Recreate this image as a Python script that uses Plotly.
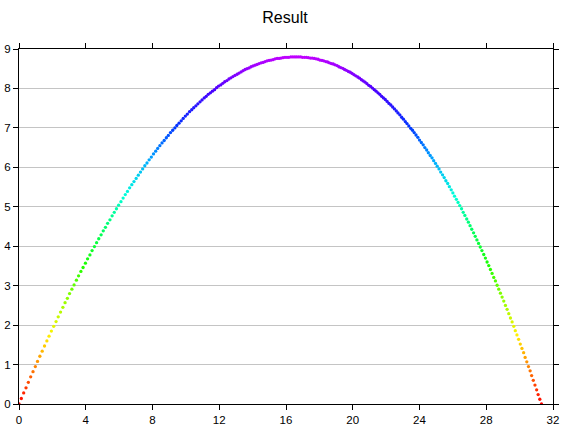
import plotly.graph_objects as go

title_text = "Result"

x_vals = [
    0.00,
    0.14, 0.28, 0.42, 0.56, 0.70, 0.84, 0.98, 1.11, 1.25, 1.39,
    1.53, 1.67, 1.80, 1.94, 2.08, 2.22, 2.35, 2.49, 2.63, 2.76,
    2.90, 3.03, 3.17, 3.30, 3.44, 3.57, 3.71, 3.84, 3.98, 4.11,
    4.25, 4.38, 4.52, 4.65, 4.78, 4.92, 5.05, 5.18, 5.31, 5.45,
    5.58, 5.71, 5.84, 5.97, 6.11, 6.24, 6.37, 6.50, 6.63, 6.76,
    6.89, 7.02, 7.15, 7.28, 7.41, 7.54, 7.67, 7.80, 7.93, 8.06,
    8.19, 8.31, 8.44, 8.57, 8.70, 8.83, 8.95, 9.08, 9.21, 9.34,
    9.46, 9.59, 9.72, 9.84, 9.97, 10.09, 10.22, 10.35, 10.47, 10.60,
    10.72, 10.85, 10.97, 11.10, 11.22, 11.34, 11.47, 11.59, 11.72, 11.84,
    11.96, 12.09, 12.21, 12.33, 12.46, 12.58, 12.70, 12.82, 12.94, 13.07,
    13.19, 13.31, 13.43, 13.55, 13.67, 13.79, 13.91, 14.03, 14.15, 14.27,
    14.39, 14.51, 14.63, 14.75, 14.87, 14.99, 15.11, 15.23, 15.35, 15.47,
    15.59, 15.70, 15.82, 15.94, 16.06, 16.17, 16.29, 16.41, 16.53, 16.64,
    16.76, 16.88, 16.99, 17.11, 17.22, 17.34, 17.46, 17.57, 17.69, 17.80,
    17.92, 18.03, 18.15, 18.26, 18.38, 18.49, 18.60, 18.72, 18.83, 18.94,
    19.06, 19.17, 19.28, 19.40, 19.51, 19.62, 19.74, 19.85, 19.96, 20.07,
    20.18, 20.30, 20.41, 20.52, 20.63, 20.74, 20.85, 20.96, 21.07, 21.18,
    21.29, 21.40, 21.51, 21.62, 21.73, 21.84, 21.95, 22.06, 22.17, 22.28,
    22.39, 22.50, 22.61, 22.71, 22.82, 22.93, 23.04, 23.15, 23.25, 23.36,
    23.47, 23.58, 23.68, 23.79, 23.90, 24.00, 24.11, 24.22, 24.32, 24.43,
    24.53, 24.64, 24.75, 24.85, 24.96, 25.06, 25.17, 25.27, 25.38, 25.48,
    25.58, 25.69, 25.79, 25.90, 26.00, 26.10, 26.21, 26.31, 26.41, 26.52,
    26.62, 26.72, 26.83, 26.93, 27.03, 27.13, 27.24, 27.34, 27.44, 27.54,
    27.64, 27.74, 27.85, 27.95, 28.05, 28.15, 28.25, 28.35, 28.45, 28.55,
    28.65, 28.75, 28.85, 28.95, 29.05, 29.15, 29.25, 29.35, 29.45, 29.55,
    29.65, 29.74, 29.84, 29.94, 30.04, 30.14, 30.24, 30.33, 30.43, 30.53,
    30.63, 30.72, 30.82, 30.92, 31.02, 31.11, 31.21, 31.31,
]

y_vals = [
    0.00,
    0.14, 0.28, 0.41, 0.55, 0.69, 0.82, 0.95, 1.08, 1.21, 1.34,
    1.47, 1.60, 1.72, 1.85, 1.97, 2.09, 2.21, 2.33, 2.45, 2.57,
    2.68, 2.80, 2.91, 3.02, 3.14, 3.25, 3.36, 3.46, 3.57, 3.68,
    3.78, 3.89, 3.99, 4.09, 4.19, 4.29, 4.39, 4.48, 4.58, 4.67,
    4.77, 4.86, 4.95, 5.04, 5.13, 5.22, 5.31, 5.39, 5.48, 5.56,
    5.64, 5.72, 5.80, 5.88, 5.96, 6.04, 6.11, 6.19, 6.26, 6.34,
    6.41, 6.48, 6.55, 6.62, 6.68, 6.75, 6.81, 6.88, 6.94, 7.00,
    7.06, 7.12, 7.18, 7.24, 7.30, 7.35, 7.41, 7.46, 7.51, 7.56,
    7.61, 7.66, 7.71, 7.76, 7.80, 7.85, 7.89, 7.93, 7.97, 8.02,
    8.06, 8.09, 8.13, 8.17, 8.20, 8.24, 8.27, 8.30, 8.33, 8.36,
    8.39, 8.42, 8.45, 8.48, 8.50, 8.52, 8.55, 8.57, 8.59, 8.61,
    8.63, 8.65, 8.66, 8.68, 8.70, 8.71, 8.72, 8.73, 8.75, 8.76,
    8.76, 8.77, 8.78, 8.79, 8.79, 8.79, 8.80, 8.80, 8.80, 8.80,
    8.80, 8.80, 8.79, 8.79, 8.79, 8.78, 8.77, 8.77, 8.76, 8.75,
    8.74, 8.72, 8.71, 8.70, 8.68, 8.67, 8.65, 8.63, 8.62, 8.60,
    8.58, 8.55, 8.53, 8.51, 8.48, 8.46, 8.43, 8.41, 8.38, 8.35,
    8.32, 8.29, 8.26, 8.22, 8.19, 8.16, 8.12, 8.08, 8.05, 8.01,
    7.97, 7.93, 7.89, 7.85, 7.80, 7.76, 7.72, 7.67, 7.62, 7.58,
    7.53, 7.48, 7.43, 7.38, 7.33, 7.27, 7.22, 7.16, 7.11, 7.05,
    6.99, 6.94, 6.88, 6.82, 6.76, 6.69, 6.63, 6.57, 6.50, 6.44,
    6.37, 6.30, 6.24, 6.17, 6.10, 6.03, 5.96, 5.88, 5.81, 5.74,
    5.66, 5.59, 5.51, 5.43, 5.35, 5.27, 5.19, 5.11, 5.03, 4.95,
    4.86, 4.78, 4.69, 4.61, 4.52, 4.43, 4.34, 4.25, 4.16, 4.07,
    3.98, 3.89, 3.79, 3.70, 3.60, 3.51, 3.41, 3.31, 3.21, 3.12,
    3.01, 2.91, 2.81, 2.71, 2.61, 2.50, 2.40, 2.29, 2.18, 2.08,
    1.97, 1.86, 1.75, 1.64, 1.52, 1.41, 1.30, 1.18, 1.07, 0.95,
    0.84, 0.72, 0.60, 0.48, 0.36, 0.24, 0.12, 0.00,
]

x_ticks = [0, 4, 8, 12, 16, 20, 24, 28, 32]
y_ticks = [0, 1, 2, 3, 4, 5, 6, 7, 8, 9]

hue_colors = [
    "rgb(255,0,0)", "rgb(255,121,0)", "rgb(255,242,0)", "rgb(147,255,0)",
    "rgb(26,255,0)", "rgb(0,255,96)", "rgb(0,255,217)", "rgb(0,172,255)",
    "rgb(0,51,255)", "rgb(70,0,255)", "rgb(191,0,255)",
]
colorscale = [[i / (len(hue_colors) - 1), c] for i, c in enumerate(hue_colors)]

fig = go.Figure(
    go.Scatter(
        x=x_vals,
        y=y_vals,
        mode="markers",
        marker=dict(
            size=3.3,
            color=y_vals,
            colorscale=colorscale,
            cmin=0,
            cmax=8.8,
            line=dict(width=0),
        ),
        showlegend=False,
        hoverinfo="x+y",
    )
)

axis_common = dict(
    ticks="outside",
    ticklen=5,
    tickwidth=1,
    tickcolor="black",
    showline=True,
    linecolor="black",
    linewidth=1,
    mirror="ticks",
    zeroline=False,
    automargin=False,
    tickfont=dict(size=11.5, color="black"),
)

fig.update_layout(
    width=570,
    height=430,
    margin=dict(l=19, r=17, t=49, b=26),
    paper_bgcolor="white",
    plot_bgcolor="white",
    font=dict(family="Liberation Sans, Arial, Helvetica, sans-serif", color="black"),
    title=dict(
        text=title_text,
        x=0.5,
        xanchor="center",
        y=1 - 17 / 430,
        yanchor="middle",
        font=dict(size=16, color="black"),
    ),
    xaxis=dict(range=[0, 32], tickvals=x_ticks, showgrid=False, **axis_common),
    yaxis=dict(
        range=[0, 9],
        tickvals=y_ticks,
        showgrid=True,
        gridcolor="#c4c4c4",
        gridwidth=1,
        **axis_common,
    ),
)

fig.write_html(
    "out.html",
    config={"displayModeBar": False},
    post_script="document.body.style.margin='0';document.body.style.padding='0';",
)
